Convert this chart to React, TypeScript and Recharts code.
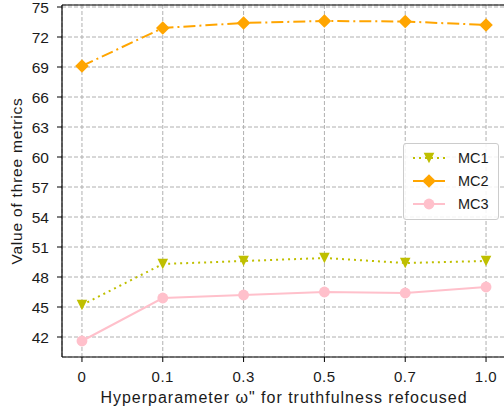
import React from 'react';
import { LineChart, Line, XAxis, YAxis, CartesianGrid, ReferenceLine } from 'recharts';

// omega" values shown on the x axis
const xLabels = ['0', '0.1', '0.3', '0.5', '0.7', '1.0'];
const mc1 = [45.2, 49.3, 49.6, 49.9, 49.4, 49.6];
const mc2 = [69.1, 72.9, 73.4, 73.6, 73.55, 73.2];
const mc3 = [41.6, 45.9, 46.2, 46.5, 46.4, 47.0];
const yTicks = [42, 45, 48, 51, 54, 57, 60, 63, 66, 69, 72, 75];

const FONT = '"Liberation Sans", Arial, sans-serif';
const TEXT = '#1a1a1a';

const SERIES = [
  { key: 'MC1', color: '#bfbf00', dash: '2 4', shape: 'tri' },
  { key: 'MC2', color: '#ffa500', dash: '12 4 2 4', shape: 'diamond' },
  { key: 'MC3', color: '#ffc0cb', dash: undefined, shape: 'circle' },
];

const data = xLabels.map((label, i) => ({ i, label, MC1: mc1[i], MC2: mc2[i], MC3: mc3[i] }));

const Marker = ({ cx, cy, shape, color }: any) => {
  if (cx == null || cy == null) return null;
  if (shape === 'diamond') {
    const r = 6.8;
    return <polygon points={`${cx},${cy - r} ${cx + r},${cy} ${cx},${cy + r} ${cx - r},${cy}`} fill={color} />;
  }
  if (shape === 'tri') {
    const r = 5.3;
    return <polygon points={`${cx - r},${cy - r} ${cx + r},${cy - r} ${cx},${cy + r}`} fill={color} />;
  }
  return <circle cx={cx} cy={cy} r={5.4} fill={color} />;
};

// legend box sits over the plot, like matplotlib's loc="center right"
const ChartLegend = () => (
  <div
    style={{
      position: 'absolute',
      left: 403,
      top: 143,
      width: 86,
      border: '1px solid #cccccc',
      borderRadius: 3,
      background: 'rgba(255,255,255,0.85)',
      padding: '2px 0 3px 8px',
      fontFamily: FONT,
      fontSize: 14.5,
      color: TEXT,
    }}
  >
    {SERIES.map((s) => (
      <div key={s.key} style={{ display: 'flex', alignItems: 'center', height: 23.3 }}>
        <svg width={34} height={16} style={{ overflow: 'visible' }}>
          <line x1={1} y1={8} x2={33} y2={8} stroke={s.color} strokeWidth={2} strokeDasharray={s.dash} />
          <Marker cx={17} cy={8} shape={s.shape} color={s.color} />
        </svg>
        <span style={{ marginLeft: 12 }}>{s.key}</span>
      </div>
    ))}
  </div>
);

export default function App() {
  return (
    <div style={{ position: 'absolute', left: 0, top: 0, width: 504, height: 410, overflow: 'hidden', background: '#fff' }}>
      <LineChart width={512} height={410} data={data} margin={{ top: 5, right: 6, bottom: 0, left: 0 }}>
        <CartesianGrid stroke="#b0b0b0" strokeDasharray="4 2" strokeWidth={1} />
        <XAxis
          dataKey="i"
          type="number"
          domain={[-0.247, 5.247]}
          ticks={[0, 1, 2, 3, 4, 5]}
          interval={0}
          tickFormatter={(v: number) => xLabels[v]}
          allowDataOverflow
          height={53}
          axisLine={{ stroke: '#000', strokeWidth: 1.2 }}
          tickLine={{ stroke: '#000' }}
          tickSize={5}
          tickMargin={9}
          tick={{ fill: TEXT, fontSize: 15, fontFamily: FONT, letterSpacing: 0.5 }}
          label={() => (
            <text x={284} y={403} textAnchor="middle" fill={TEXT} fontSize={16} fontFamily={FONT} letterSpacing={1}>
              Hyperparameter ω" for truthfulness refocused
            </text>
          )}
        />
        <YAxis
          type="number"
          domain={[40, 75.2]}
          ticks={yTicks}
          interval={0}
          allowDataOverflow
          width={62}
          axisLine={{ stroke: '#000', strokeWidth: 1.2 }}
          tickLine={{ stroke: '#000' }}
          tickSize={5}
          tickMargin={8}
          tick={{ fill: TEXT, fontSize: 15.5, fontFamily: FONT }}
          label={() => (
            <text
              x={16}
              y={181}
              transform="rotate(-90, 16, 181)"
              textAnchor="middle"
              dominantBaseline="central"
              fill={TEXT}
              fontSize={15.5}
              fontFamily={FONT}
              letterSpacing={0.8}
            >
              Value of three metrics
            </text>
          )}
        />
        <ReferenceLine y={75.2} stroke="#000" strokeWidth={1.2} />
        <ReferenceLine x={5.247} stroke="#000" strokeWidth={1.2} />
        {SERIES.map((s) => (
          <Line
            key={s.key}
            dataKey={s.key}
            type="linear"
            stroke={s.color}
            strokeWidth={2}
            strokeDasharray={s.dash}
            dot={(p: any) => <Marker key={`${s.key}-${p.index}`} cx={p.cx} cy={p.cy} shape={s.shape} color={s.color} />}
            activeDot={false}
            isAnimationActive={false}
          />
        ))}
      </LineChart>
      <ChartLegend />
    </div>
  );
}
